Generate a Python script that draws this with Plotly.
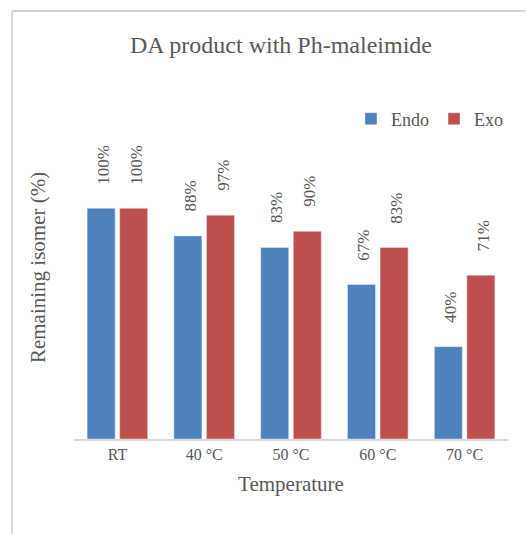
import plotly.graph_objects as go

categories = ["RT", "40 °C", "50 °C", "60 °C", "70 °C"]
endo = [100, 88, 83, 67, 40]
exo = [100, 97, 90, 83, 71]
endo_labels = ["100%", "88%", "83%", "67%", "40%"]
exo_labels = ["100%", "97%", "90%", "83%", "71%"]

FONT = "Liberation Serif, Times New Roman, serif"
GRAY = "#595959"
BLUE = "#4F81BD"
RED = "#C0504D"

fig = go.Figure()
fig.add_trace(go.Bar(name="Endo", x=categories, y=endo, marker_color=BLUE))
fig.add_trace(go.Bar(name="Exo", x=categories, y=exo, marker_color=RED))

annotations = []
for cat, v, t in zip(categories, endo, endo_labels):
    annotations.append(dict(x=cat, y=v, xref="x", yref="y", text=t, showarrow=False,
                            textangle=-90, yanchor="bottom", xanchor="center",
                            xshift=-14, yshift=22, font=dict(family=FONT, size=17, color=GRAY)))
for cat, v, t in zip(categories, exo, exo_labels):
    annotations.append(dict(x=cat, y=v, xref="x", yref="y", text=t, showarrow=False,
                            textangle=-90, yanchor="bottom", xanchor="center",
                            xshift=19, yshift=22, font=dict(family=FONT, size=17, color=GRAY)))
annotations.append(dict(x=-0.083, y=0.573, xref="paper", yref="paper", text="Remaining isomer (%)",
                        showarrow=False, textangle=-90, xanchor="center", yanchor="middle",
                        font=dict(family=FONT, size=21, color=GRAY)))

border_top = (439 - 11) / 300
border_left = (12 - 74) / 434

fig.update_layout(
    width=526, height=534,
    margin=dict(l=74, r=18, t=139, b=95),
    paper_bgcolor="white", plot_bgcolor="white",
    barmode="group", bargap=0.25, bargroupgap=0.14,
    title=dict(text="DA product with Ph-maleimide", x=281/526, xanchor="center",
               y=1 - 45/534, yanchor="middle", xref="container", yref="container",
               font=dict(family=FONT, size=24, color=GRAY)),
    font=dict(family=FONT, color=GRAY),
    showlegend=True,
    legend=dict(orientation="h", x=1.0, xanchor="right", y=(439 - 119) / 300,
                yanchor="middle", font=dict(family=FONT, size=18, color=GRAY),
                bgcolor="rgba(0,0,0,0)", itemclick=False),
    xaxis=dict(showline=True, linecolor="#D9D9D9", linewidth=1.5, ticks="",
               tickfont=dict(family=FONT, size=16, color=GRAY),
               title=dict(text="Temperature", font=dict(family=FONT, size=21, color=GRAY), standoff=14),
               showgrid=False, fixedrange=True),
    yaxis=dict(range=[0, 130], showticklabels=False, showgrid=False, zeroline=False,
               showline=False, fixedrange=True),
    annotations=annotations,
    shapes=[
        dict(type="line", xref="paper", yref="paper", x0=border_left, x1=1.04,
             y0=border_top, y1=border_top, line=dict(color="#D4D4D4", width=2), layer="above"),
        dict(type="line", xref="paper", yref="paper", x0=border_left, x1=border_left,
             y0=-0.32, y1=border_top, line=dict(color="#D9D9D9", width=2), layer="above"),
    ],
)

fig.write_html("out.html", config={"displayModeBar": False})
